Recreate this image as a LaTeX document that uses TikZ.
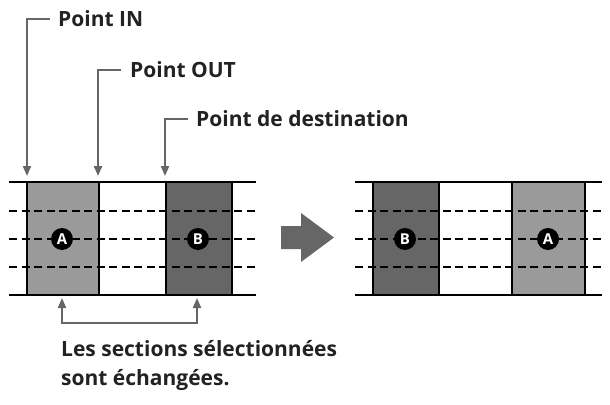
\documentclass[tikz,border=0pt]{standalone}
\usepackage{fontspec}
\setmainfont{Open Sans}
\usetikzlibrary{arrows.meta}
\definecolor{lgray}{HTML}{9A9A9A}
\definecolor{dgray}{HTML}{666666}
\definecolor{agray}{HTML}{666666}
\definecolor{txt}{HTML}{222222}
\tikzset{
  rail/.style={line width=2pt,black},
  sep/.style={line width=1.3pt,black},
  track/.style={line width=2.2pt,black,dash pattern=on 8pt off 4.5pt},
  callout/.style={line width=2pt,agray,-{Triangle[length=10pt,width=8pt]}},
  marker/.style={circle,fill=black,minimum size=22pt,inner sep=0pt,text=white,font=\bfseries\fontsize{15}{15}\selectfont},
  lbl/.style={anchor=west,inner sep=0pt,text=txt,font=\bfseries\fontsize{21}{29.5}\selectfont},
}
\begin{document}
\begin{tikzpicture}[x=1pt,y=-1pt]
\useasboundingbox (0,0) rectangle (610,404);
% left strip
\fill[lgray] (27,182) rectangle (99,295);
\fill[dgray] (166,182) rectangle (232,295);
\foreach \x in {27,99,166,232} \draw[sep] (\x,182) -- (\x,295);
\foreach \y in {211,239,267} \draw[track] (9,\y) -- (256,\y);
\draw[rail] (9,182) -- (256,182);
\draw[rail] (9,295) -- (256,295);
\node[marker] (a1) at (62,239) {A};
\node[marker] (b1) at (198,239) {B};
% right strip
\fill[dgray] (373,182) rectangle (439,295);
\fill[lgray] (512,182) rectangle (585,295);
\foreach \x in {373,439,512,585} \draw[sep] (\x,182) -- (\x,295);
\foreach \y in {211,239,267} \draw[track] (355,\y) -- (602,\y);
\draw[rail] (355,182) -- (602,182);
\draw[rail] (355,295) -- (602,295);
\node[marker] (b2) at (405,239) {B};
\node[marker] (a2) at (548,239) {A};
% big arrow
\fill[agray] (281,226) -- (301,226) -- (301,213) -- (334,237.5) -- (301,262) -- (301,249) -- (281,249) -- cycle;
% labels
\node[lbl] (pin) at (58,19) {Point IN};
\node[lbl] (pout) at (130,70) {Point OUT};
\node[lbl] (pdest) at (196,119) {Point de destination};
\coordinate (tin) at (27,176);
\coordinate (tout) at (98,176);
\coordinate (tdest) at (165,176);
\draw[callout] ([xshift=-8pt]pin.west) -- (27,19) -- (tin);
\draw[callout] ([xshift=-9pt]pout.west) -- (98,70) -- (tout);
\draw[callout] ([xshift=-8pt]pdest.west) -- (165,119) -- (tdest);
% bottom bracket
\coordinate (ba) at (62,298);
\coordinate (bb) at (197,298);
\draw[line width=2pt,agray,{Triangle[length=10pt,width=8pt]}-{Triangle[length=10pt,width=8pt]}] (ba) -- (62,323) -- (197,323) -- (bb);
\node[lbl,anchor=north west,align=left] (note) at (61,340) {Les sections sélectionnées\\sont échangées.};
\end{tikzpicture}
\end{document}
